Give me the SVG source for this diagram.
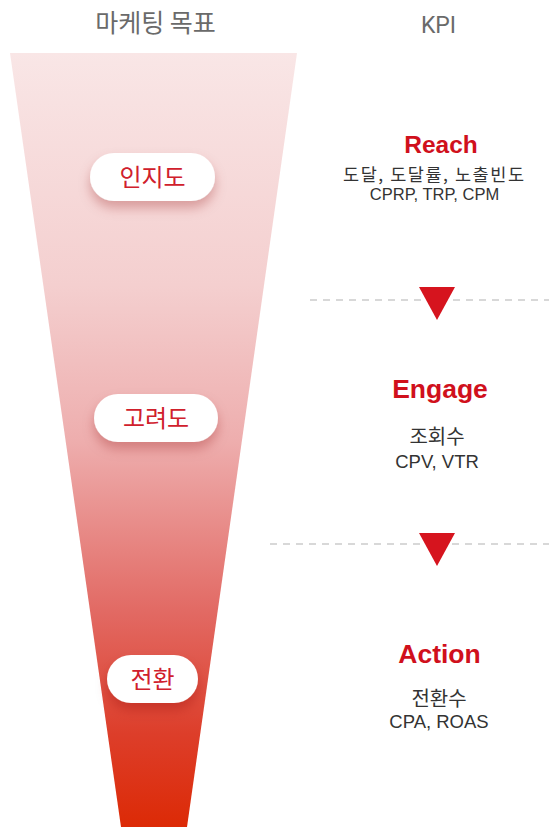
<svg xmlns="http://www.w3.org/2000/svg" width="549" height="829" viewBox="0 0 549 829">
<defs>
<linearGradient id="fg" x1="0" y1="53" x2="0" y2="827" gradientUnits="userSpaceOnUse">
<stop offset="0" stop-color="#f9e6e6"/>
<stop offset="0.3" stop-color="#f4cfcf"/>
<stop offset="0.5" stop-color="#eeaeae"/>
<stop offset="0.72" stop-color="#e26a64"/>
<stop offset="0.88" stop-color="#dd3e2a"/>
<stop offset="1" stop-color="#dc2a06"/>
</linearGradient>
<filter id="sh" x="-30%" y="-40%" width="160%" height="200%">
<feDropShadow dx="0" dy="7" stdDeviation="6" flood-color="#8a1010" flood-opacity="0.28"/>
</filter>
</defs>
<style>
.hdr{font-family:"Noto Sans CJK KR","Noto Sans",sans-serif;font-size:25px;fill:#6a6a6a;text-anchor:middle}
.kpi{font-family:Roboto,"Liberation Sans",sans-serif;font-size:23px;fill:#6a6a6a;text-anchor:middle}
.pill{fill:#ffffff;filter:url(#sh)}
.ptx{font-family:"Noto Sans CJK KR","Noto Sans",sans-serif;font-size:24px;fill:#d0202c;text-anchor:middle}
.kt{font-family:"Liberation Sans",Arial,sans-serif;font-weight:bold;font-size:26.5px;fill:#d0101c;text-anchor:middle}
.kr{font-family:"Noto Sans CJK KR","Noto Sans",sans-serif;font-size:20px;fill:#333333;text-anchor:middle}
.en{font-family:"Liberation Sans",Arial,sans-serif;font-size:18.5px;fill:#333333;text-anchor:middle}
.dash{stroke:#cccccc;stroke-width:1.5;stroke-dasharray:7 6;fill:none}
.arr{fill:#d6141e}
</style>
<text class="hdr" x="155.5" y="32">마케팅 목표</text>
<text class="kpi" x="438.5" y="33">KPI</text>
<polygon points="10,53 297,53 187,827 121,827" fill="url(#fg)"/>
<g id="n-awareness">
<rect class="pill" x="90" y="153" width="125" height="48" rx="24"/>
<text class="ptx" x="152.5" y="185.5">인지도</text>
</g>
<g id="n-consideration">
<rect class="pill" x="94" y="394" width="124" height="48" rx="24"/>
<text class="ptx" x="156" y="426.5">고려도</text>
</g>
<g id="n-conversion">
<rect class="pill" x="107" y="655" width="91" height="48" rx="24"/>
<text class="ptx" x="152.5" y="687.5">전환</text>
</g>
<g id="k-reach">
<text class="kt" x="441" y="153" style="font-size:24.5px">Reach</text>
<text class="kr" x="433.5" y="181" style="font-size:17.5px" textLength="181">도달, 도달률, 노출빈도</text>
<text class="en" x="434.5" y="200" style="font-size:16.5px">CPRP, TRP, CPM</text>
</g>
<g id="k-engage">
<text class="kt" x="440" y="398">Engage</text>
<text class="kr" x="437" y="444">조회수</text>
<text class="en" x="437" y="468">CPV, VTR</text>
</g>
<g id="k-action">
<text class="kt" x="439.5" y="663">Action</text>
<text class="kr" x="439" y="706">전환수</text>
<text class="en" x="439" y="728">CPA, ROAS</text>
</g>
<g id="connectors">
<line class="dash" x1="310" y1="300" x2="549" y2="300"/>
<polygon class="arr" points="419,287 455,287 437,320"/>
<line class="dash" x1="270" y1="544" x2="549" y2="544"/>
<polygon class="arr" points="419,533 455,533 437,566"/>
</g>
</svg>
